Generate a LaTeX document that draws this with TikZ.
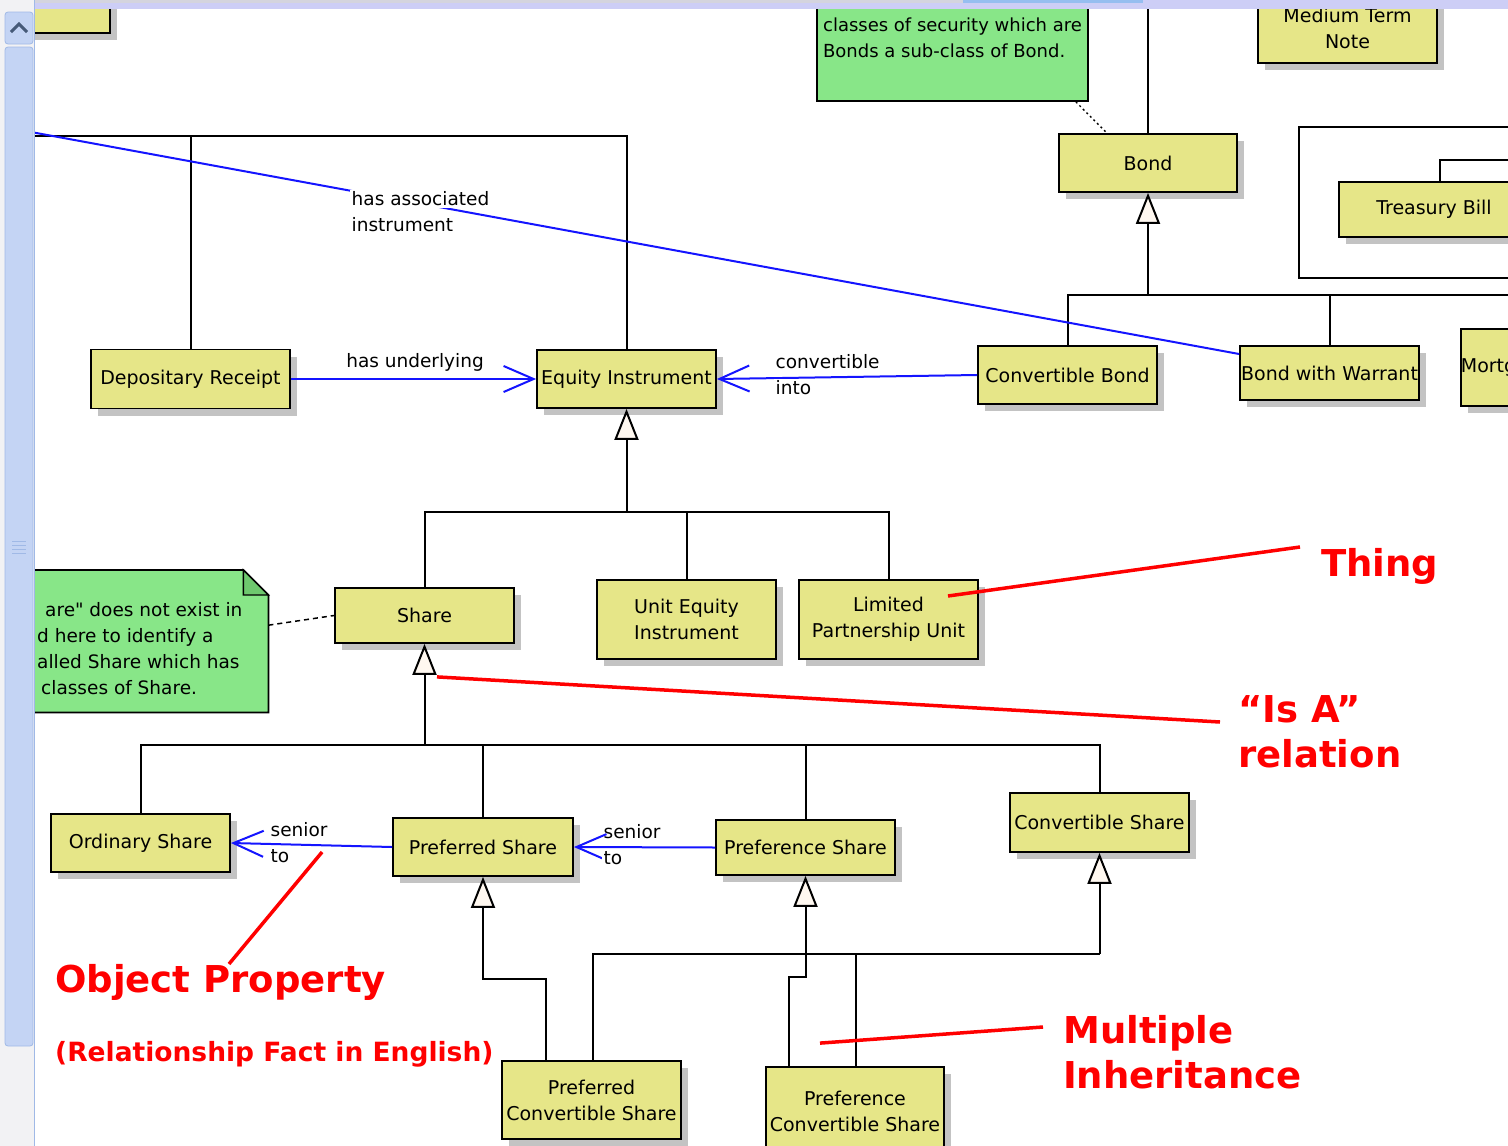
\documentclass[tikz,border=0pt]{standalone}
\usepackage{fontspec}
\setmainfont{DejaVu Sans}
\newfontfamily\plainq{DejaVu Sans}
\usetikzlibrary{arrows.meta,shadows}
\definecolor{clsfill}{RGB}{230,230,136}
\definecolor{notefill}{RGB}{136,230,136}
\definecolor{foldgreen}{RGB}{110,200,110}
\definecolor{shgray}{RGB}{195,195,195}
\definecolor{trifill}{RGB}{255,248,240}
\definecolor{propblue}{RGB}{20,20,255}
\definecolor{annred}{RGB}{255,0,0}
\definecolor{scrollblue}{RGB}{196,212,244}
\definecolor{scrolledge}{RGB}{160,185,230}
\definecolor{bandlav}{RGB}{205,206,246}
\definecolor{bandgray}{RGB}{212,212,222}
\definecolor{bandblue}{RGB}{150,190,240}
\definecolor{stripgray}{RGB}{242,242,244}
\definecolor{chevc}{RGB}{70,90,120}
\newcommand\boxfont{\fontsize{19}{26}\selectfont}
\newcommand\notefont{\fontsize{18}{26}\selectfont}
\newcommand\notebfont{\fontsize{18.5}{26}\selectfont}
\newcommand\lblfont{\fontsize{18.5}{22}\selectfont}
\newcommand\annbig{\fontsize{37}{45}\selectfont\bfseries}
\newcommand\annsmall{\fontsize{26.5}{32}\selectfont\bfseries}
\begin{document}
\begin{tikzpicture}[x=1pt,y=-1pt,
  cls/.style={draw=black, line width=1.8pt, fill=clsfill, inner sep=0pt, align=center, font=\boxfont,
    drop shadow={shadow xshift=7pt, shadow yshift=-7pt, fill=shgray, opacity=1}},
  notebox/.style={draw=black, line width=1.8pt, fill=notefill, inner xsep=5pt, inner ysep=0pt, align=left, font=\notefont},
  treeline/.style={draw=black, line width=2pt},
  genline/.style={treeline, -{Triangle[width=24pt,length=31pt,fill=trifill]}},
  propline/.style={draw=propblue, line width=2pt},
  proparrow/.style={propline, -{Straight Barb[length=30pt,width=26pt]}},
  lbl/.style={font=\lblfont, inner sep=1.5pt},
  lblw/.style={lbl, fill=white},
  annot/.style={text=annred, font=\annbig, inner sep=0pt, align=left},
  annline/.style={draw=annred, line width=3.5pt}]
\useasboundingbox (0,0) rectangle (1508,1146);
\clip (0,0) rectangle (1508,1146);
\fill[white] (0,0) rectangle (1508,1146);

% ---------- class nodes ----------
\node[cls, minimum width=90pt, minimum height=63pt] (tl) at (65,1.5) {};
\node[notebox, minimum width=271pt, minimum height=126pt] (note1) at (952.5,38) {classes of security which are\\Bonds a sub-class of Bond.};
\node[cls, minimum width=179pt, minimum height=70pt] (mtn) at (1347.5,28) {Medium Term\\Note};
\node[draw=black, line width=1.8pt, minimum width=260pt, minimum height=151pt, anchor=north west, inner sep=0pt] (tbframe) at (1298,126) {};
\node[cls, minimum width=190pt, minimum height=55pt] (tbill) at (1434,209.5) {Treasury Bill};
\node[cls, minimum width=178pt, minimum height=58pt] (bond) at (1148,163) {Bond};
\node[cls, minimum width=179pt, minimum height=58pt] (cb) at (1067.5,375) {Convertible Bond};
\node[cls, minimum width=179pt, minimum height=54pt] (bww) at (1329.5,373) {Bond with Warrant};
\node[cls, minimum height=77pt, text width=100pt, align=left, anchor=north west] (mortg) at (1460,328) {Mortg};
\node[cls, minimum width=199pt, minimum height=59pt] (dr) at (190.5,379) {Depositary Receipt};
\node[cls, minimum width=179pt, minimum height=58pt] (ei) at (626.5,379) {Equity Instrument};
\node[cls, minimum width=179pt, minimum height=55pt] (share) at (424.5,615.5) {Share};
\node[cls, minimum width=179pt, minimum height=79pt] (uei) at (686.5,619.5) {Unit Equity\\Instrument};
\node[cls, minimum width=179pt, minimum height=79pt] (lpu) at (888.5,619.5) {Limited\\Partnership Unit};
\node[cls, minimum width=179pt, minimum height=58pt] (os) at (140.5,843) {Ordinary Share};
\node[cls, minimum width=180pt, minimum height=58pt] (pfs) at (483,847) {Preferred Share};
\node[cls, minimum width=179pt, minimum height=55pt] (pcs) at (805.5,847.5) {Preference Share};
\node[cls, minimum width=179pt, minimum height=59pt] (cs) at (1099.5,822.5) {Convertible Share};
\node[cls, minimum width=179pt, minimum height=78pt] (pfcs) at (591.5,1100) {Preferred\\Convertible Share};
\node[cls, minimum width=178pt, minimum height=88pt] (pccs) at (855,1111) {Preference\\Convertible Share};

% ---------- left note with folded corner ----------
\node[inner sep=0pt, minimum width=248pt, minimum height=142pt, anchor=north west] (note2) at (20,570) {};
\filldraw[fill=notefill, draw=black, line width=1.8pt] (note2.north west) -- ([xshift=-25pt]note2.north east) -- ([yshift=-25pt]note2.north east) -- (note2.south east) -- (note2.south west) -- cycle;
\filldraw[fill=foldgreen, draw=black, line width=1.4pt] ([xshift=-25pt]note2.north east) -- ([xshift=-25pt,yshift=-25pt]note2.north east) -- ([yshift=-25pt]note2.north east) -- cycle;
\node[font=\notebfont, align=left, anchor=west, inner sep=0pt] (note2txt) at (37,649)
  {\hspace*{8pt}are{\plainq"} does not exist in\\d here to identify a\\alled Share which has\\\hspace*{4pt}classes of Share.};

% ---------- note links ----------
\draw[black, line width=1.4pt, dash pattern=on 2pt off 3pt] ([xshift=-13pt]note1.south east) -- ([xshift=-41pt]bond.north);
\draw[black, line width=1.5pt, dash pattern=on 5pt off 4pt] ([yshift=16pt]note2.east) -- (share.west);

% ---------- generalisation trees ----------
\coordinate (bondup) at (1148,0);
\draw[treeline] (bond.north) -- (bondup);
\coordinate (bondbus) at (1148,295);
\coordinate (bondbusR) at (1508,295);
\draw[genline] (bondbus) -- (bond.south);
\draw[treeline] (cb.north) |- (bondbusR);
\draw[treeline] (bww.north) -- (bww.north |- bondbus);
\coordinate (tbR) at (1508,160);
\draw[treeline] ([xshift=6pt]tbill.north) |- (tbR);

\coordinate (topbusL) at (20,136);
\draw[treeline] (topbusL) -| (ei.north);
\draw[treeline] (dr.north) -- (dr.north |- topbusL);

\coordinate (eibus) at (626.5,512);
\draw[genline] (eibus) -- (ei.south);
\draw[treeline] (share.north) |- (eibus);
\draw[treeline] (lpu.north) |- (eibus);
\draw[treeline] (uei.north) -- (uei.north |- eibus);

\coordinate (sharebus) at (424.5,745);
\draw[genline] (sharebus) -- (share.south);
\draw[treeline] (os.north) |- (sharebus);
\draw[treeline] (cs.north) |- (sharebus);
\draw[treeline] (pfs.north) -- (pfs.north |- sharebus);
\draw[treeline] (pcs.north) -- (pcs.north |- sharebus);

\coordinate (pfsbend) at (546,979);
\draw[genline] ([xshift=-45.5pt]pfcs.north) -- (pfsbend) -| (pfs.south);
\coordinate (pcsbend) at (789,977);
\draw[genline] ([xshift=-66pt]pccs.north) -- (pcsbend) -| (pcs.south);
\coordinate (csbus) at (1099.5,954);
\draw[genline] (csbus) -- (cs.south);
\draw[treeline] ([xshift=1.5pt]pfcs.north) |- (csbus);
\draw[treeline] ([xshift=1pt]pccs.north) -- ([xshift=1pt]pccs.north |- csbus);

% ---------- object properties ----------
\coordinate (hasL) at (20,130);
\draw[propline] (hasL) -- ([yshift=19pt]bww.west);
\node[lblw, anchor=west] (hai1) at (350,199) {has associated};
\node[lblw, anchor=west] (hai2) at (350,225) {instrument};

\draw[proparrow] (dr.east) -- (ei.west);
\node[lbl] (hu) at (415,362) {has underlying};

\draw[proparrow] (cb.west) -- (ei.east);
\node[lbl, anchor=west] (ci1) at (774,362) {convertible};
\node[lblw, anchor=west] (ci2) at (774,388) {into};

\draw[proparrow] (pfs.west) -- (os.east);
\node[lbl, anchor=west] (st1) at (269,830) {senior};
\node[lblw, anchor=west] (st2) at (269,856) {to};

\draw[proparrow] (pcs.west) -- (pfs.east);
\node[lbl, anchor=west] (st3) at (602,832) {senior};
\node[lblw, anchor=west] (st4) at (602,858) {to};

% ---------- red annotations ----------
\node[annot, anchor=west] (thing) at (1321,566) {Thing};
\draw[annline] ([xshift=59.5pt,yshift=23.5pt]lpu.center) -- ([xshift=-21pt,yshift=19pt]thing.west);

\node[annot, anchor=west] (isa) at (1238,732) {“Is A”\\relation};
\draw[annline] ([xshift=12.5pt,yshift=-33pt]share.south) -- ([xshift=-18pt,yshift=10pt]isa.west);

\node[annot, anchor=west] (op) at (55,982) {Object Property};
\draw[annline] ([xshift=-70pt,yshift=-5pt]pfs.west) -- ([xshift=174pt,yshift=18pt]op.west);
\node[annot, font=\annsmall, anchor=west] (rf) at (55,1054) {(Relationship Fact in English)};

\node[annot, anchor=west] (mi) at (1063,1052) {Multiple\\Inheritance};
\draw[annline] ([xshift=-35pt,yshift=23pt]pccs.north) -- ([xshift=-20pt,yshift=25pt]mi.west);

% ---------- window chrome ----------
\fill[bandlav] (35,0) rectangle (1508,9);
\fill[bandgray] (35,0) rectangle (963,3);
\fill[bandblue] (963,0) rectangle (1143,3);
\fill[stripgray] (0,0) rectangle (35,1146);
\filldraw[fill=scrollblue, draw=scrolledge, line width=0.8pt, rounded corners=3pt] (5,12) rectangle (33,44);
\draw[chevc, line width=3pt] (11,32) -- (19,24) -- (27,32);
\filldraw[fill=scrollblue, draw=scrolledge, line width=0.8pt, rounded corners=3pt] (5,47) rectangle (33,1046);
\foreach \yy in {541,545,549,553} \draw[scrolledge, line width=1pt] (12,\yy) -- (26,\yy);
\draw[scrolledge, line width=1pt] (34.5,0) -- (34.5,1146);
\end{tikzpicture}
\end{document}
